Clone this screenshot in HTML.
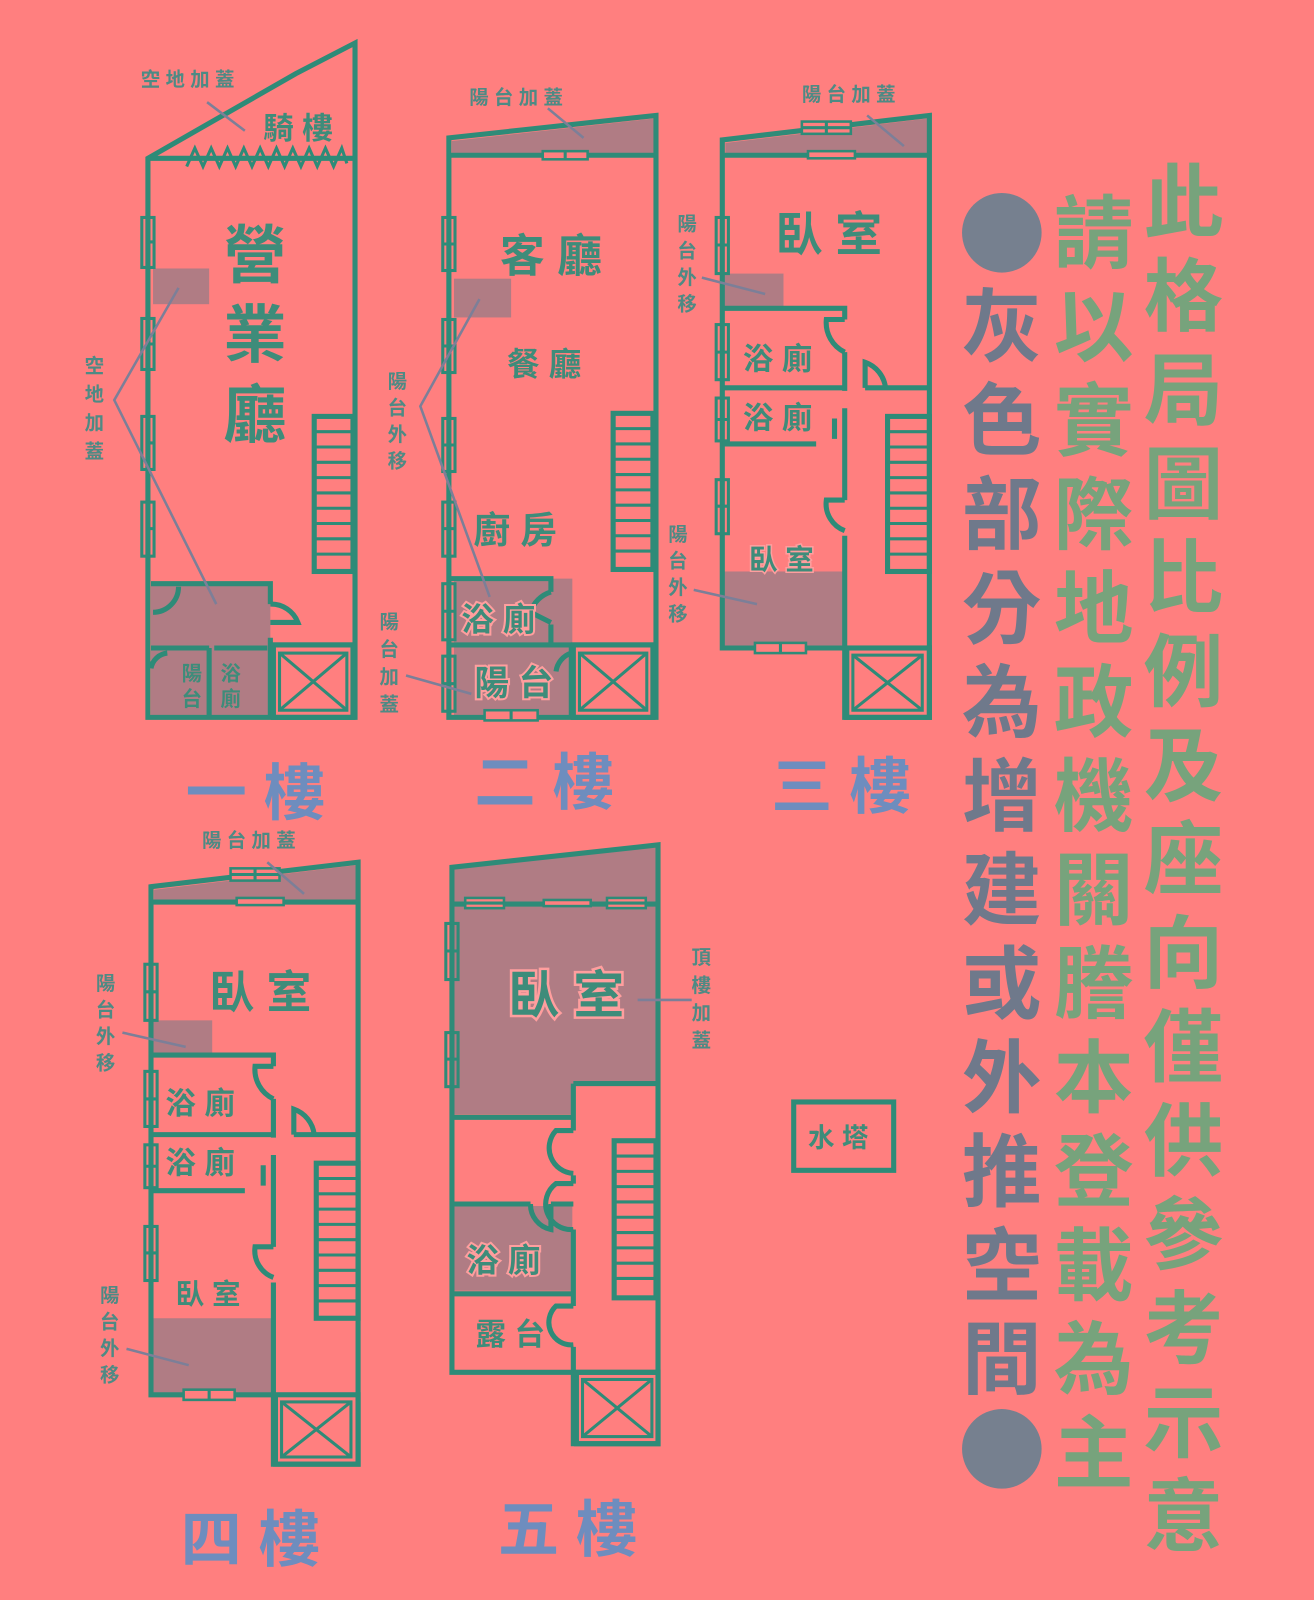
<!DOCTYPE html>
<html><head><meta charset="utf-8"><style>
html,body{margin:0;padding:0;background:#FF7F7F;}
svg{display:block}
.w{fill:none;stroke:#2E8B78;stroke-width:5}
.t{fill:none;stroke:#2E8B78;stroke-width:3}
.t2{fill:#FF7F7F;stroke:#2E8B78;stroke-width:2.5}
.g{fill:#B07C84}
.ld{stroke:#7C7F98;stroke-width:2.5}
text{font-family:"Liberation Sans","Noto Sans CJK TC",sans-serif;font-weight:bold}
.rm{fill:#3E8C7A}
.sm{fill:#4E8A84;font-size:19px}
.fl{fill:#6E8DBE;font-size:60px}
.gr{fill:#77A37C;font-size:78px}
.gy{fill:#6F798B;font-size:78px}
</style></head><body>
<svg width="1314" height="1600" viewBox="0 0 1288 1568" xmlns="http://www.w3.org/2000/svg">
<rect width="1288" height="1568" fill="#FF7F7F"/>

<!-- ===== FLOOR 1 ===== -->
<rect class="g" x="150" y="263" width="55" height="35"/>
<rect class="g" x="148" y="573" width="117" height="128"/>
<path class="w" d="M145,155 L290,72 L348,42 L348,703 L145,703 Z M145,155 L348,155"/>
<path class="t" d="M183,163 L191,145 L199,163 L207,145 L215,163 L223,145 L231,163 L239,145 L247,163 L255,145 L263,163 L271,145 L279,163 L287,145 L295,163 L303,145 L311,163 L319,145 L327,163 L335,145 L340,160"/>
<g class="t">
<rect x="139" y="213" width="12" height="49"/><rect x="139" y="312" width="12" height="50"/><rect x="139" y="408" width="12" height="52"/><rect x="139" y="492" width="12" height="53"/>
</g>
<path class="t" d="M145,237 h6 M145,337 h6 M145,434 h6 M145,518 h6"/>
<g class="w"><rect x="308" y="408" width="38" height="152"/></g>
<path class="t" d="M308,423h38M308,438h38M308,453h38M308,468h38M308,483h38M308,498h38M308,513h38M308,528h38M308,543h38"/>
<path class="w" d="M148,572 H265 V592 M265,625 V632 M265,632 H348 M148,635 H205 M205,635 V703 M265,632 V703 M210,635 H262"/>
<path class="w" d="M265,592 A28,28 0 0 1 292,610 L265,610 M150,600 A25,25 0 0 0 175,575 M148,655 A18,18 0 0 1 164,640"/>
<rect class="w" x="268" y="632" width="78" height="71"/>
<rect class="t" x="274" y="640" width="66" height="56"/>
<path class="t" d="M274,640 L340,696 M340,640 L274,696"/>
<text class="sm" x="138" y="84">空 地 加 蓋</text>
<line class="ld" x1="203" y1="100" x2="240" y2="128"/>
<text class="rm" x="258" y="136" font-size="30">騎 樓</text>
<text class="rm" x="219" y="272" font-size="62">營</text>
<text class="rm" x="219" y="350" font-size="62">業</text>
<text class="rm" x="219" y="428" font-size="62">廳</text>
<text class="sm" x="83" y="365">空</text><text class="sm" x="83" y="393">地</text><text class="sm" x="83" y="421">加</text><text class="sm" x="83" y="449">蓋</text>
<path class="ld" d="M175,282 L112,392 L212,592" fill="none"/>
<text class="rm" x="178" y="667" font-size="20">陽</text><text class="rm" x="178" y="692" font-size="20">台</text>
<text class="rm" x="216" y="667" font-size="20">浴</text><text class="rm" x="216" y="692" font-size="20">廁</text>

<!-- ===== FLOOR 2 ===== -->
<polygon class="g" points="443,138 641,116 641,150 443,150"/>
<rect class="g" x="445" y="273" width="56" height="38"/>
<rect class="g" x="445" y="567" width="116" height="134"/>
<path class="w" d="M440,135 L643,113 L643,703 L440,703 Z M440,152 H643"/>
<rect class="t2" x="532" y="148" width="44" height="8"/>
<path class="t" d="M554,148v8"/>
<g class="t">
<rect x="434" y="213" width="12" height="52"/><rect x="434" y="313" width="12" height="52"/><rect x="434" y="410" width="12" height="52"/><rect x="434" y="492" width="12" height="53"/><rect x="434" y="572" width="12" height="55"/><rect x="434" y="643" width="12" height="54"/>
</g>
<rect class="t2" x="475" y="696" width="52" height="10"/>
<path class="t" d="M434,239h12M434,339h12M434,436h12M434,518h12M434,599h12M434,670h12M501,696v10"/>
<rect class="w" x="601" y="405" width="39" height="153"/>
<path class="t" d="M601,420h39M601,435h39M601,450h39M601,465h39M601,480h39M601,495h39M601,510h39M601,525h39M601,540h39"/>
<path class="w" d="M440,567 H540 V580 M540,612 V632 M440,632 H643 M560,632 V703"/>
<path class="w" d="M540,580 A30,30 0 0 0 520,600 L540,610 M560,640 A22,22 0 0 0 545,658"/>
<rect class="w" x="562" y="632" width="78" height="71"/>
<rect class="t" x="568" y="640" width="66" height="56"/>
<path class="t" d="M568,640 L634,696 M634,640 L568,696"/>
<text class="sm" x="460" y="102">陽 台 加 蓋</text>
<line class="ld" x1="537" y1="106" x2="572" y2="135"/>
<text class="rm" x="490" y="266" font-size="44">客 廳</text>
<text class="rm" x="497" y="368" font-size="32">餐 廳</text>
<text class="rm" x="464" y="532" font-size="36">廚 房</text>
<text class="sm" x="380" y="380">陽</text><text class="sm" x="380" y="406">台</text><text class="sm" x="380" y="432">外</text><text class="sm" x="380" y="458">移</text>
<path class="ld" d="M470,293 L412,398 L480,585" fill="none"/>
<text class="sm" x="372" y="616">陽</text><text class="sm" x="372" y="643">台</text><text class="sm" x="372" y="670">加</text><text class="sm" x="372" y="697">蓋</text>
<line class="ld" x1="398" y1="662" x2="462" y2="680"/>
<text x="452" y="618" font-size="32" fill="#3E8C7A" stroke="#FF9E9E" stroke-width="4" paint-order="stroke">浴 廁</text>
<text x="465" y="681" font-size="34" fill="#3E8C7A" stroke="#FF9E9E" stroke-width="4" paint-order="stroke">陽 台</text>

<!-- ===== FLOOR 3 (reused for floor 4) ===== -->
<g id="f3">
<polygon class="g" points="711,140 909,116 909,150 711,150"/>
<rect class="g" x="710" y="268" width="58" height="34"/>
<rect class="g" x="710" y="560" width="118" height="74"/>
<path class="w" d="M708,137 L911,113 L911,703 L828,703 L828,635 L708,635 Z M708,152 H911"/>
<rect class="t2" x="786" y="119" width="48" height="12"/>
<rect class="t2" x="792" y="148" width="46" height="7"/>
<rect class="t2" x="740" y="630" width="50" height="10"/>
<g class="t">
<rect x="702" y="213" width="12" height="55"/><rect x="702" y="318" width="12" height="54"/><rect x="702" y="390" width="12" height="42"/><rect x="702" y="470" width="12" height="53"/>
</g>
<path class="t" d="M702,240h12M702,345h12M702,411h12M702,496h12M786,125h48M810,119v12M765,630v10"/>
<path class="w" d="M708,302 H828 V313 M828,345 V383 M708,380 H828 M848,380 H911 M708,435 H800 M828,400 V490 M828,525 V635"/>
<path class="w" d="M828,313 H810 A32,32 0 0 0 828,345 M848,380 V355 A30,30 0 0 1 868,380 M818,410 V430 M828,490 H810 A28,28 0 0 0 828,520"/>
<rect class="w" x="870" y="408" width="41" height="152"/>
<path class="t" d="M870,423h41M870,438h41M870,453h41M870,468h41M870,483h41M870,498h41M870,513h41M870,528h41M870,543h41"/>
<rect class="w" x="830" y="635" width="81" height="68"/>
<rect class="t" x="836" y="642" width="68" height="54"/>
<path class="t" d="M836,642 L904,696 M904,642 L836,696"/>
</g>
<text class="rm" x="760" y="246" font-size="46">臥 室</text>
<text class="rm" x="728" y="362" font-size="30">浴 廁</text>
<text class="rm" x="728" y="420" font-size="30">浴 廁</text>
<text class="rm" x="734" y="558" font-size="28" stroke="#FF9E9E" stroke-width="3" paint-order="stroke">臥 室</text>
<text class="sm" x="786" y="99">陽 台 加 蓋</text>
<line class="ld" x1="850" y1="113" x2="886" y2="143"/>
<text class="sm" x="664" y="226">陽</text><text class="sm" x="664" y="252">台</text><text class="sm" x="664" y="278">外</text><text class="sm" x="664" y="304">移</text>
<line class="ld" x1="688" y1="272" x2="750" y2="288"/>
<text class="sm" x="655" y="530">陽</text><text class="sm" x="655" y="556">台</text><text class="sm" x="655" y="582">外</text><text class="sm" x="655" y="608">移</text>
<line class="ld" x1="680" y1="578" x2="742" y2="592"/>

<!-- ===== FLOOR 4 ===== -->
<use href="#f3" transform="translate(-560,732)"/>
<text class="rm" x="205" y="988" font-size="44">臥 室</text>
<text class="rm" x="162" y="1092" font-size="30">浴 廁</text>
<text class="rm" x="162" y="1150" font-size="30">浴 廁</text>
<text class="rm" x="172" y="1278" font-size="28">臥 室</text>
<text class="sm" x="198" y="830">陽 台 加 蓋</text>
<line class="ld" x1="262" y1="845" x2="298" y2="876"/>
<text class="sm" x="94" y="970">陽</text><text class="sm" x="94" y="996">台</text><text class="sm" x="94" y="1022">外</text><text class="sm" x="94" y="1048">移</text>
<line class="ld" x1="120" y1="1012" x2="182" y2="1026"/>
<text class="sm" x="98" y="1276">陽</text><text class="sm" x="98" y="1302">台</text><text class="sm" x="98" y="1328">外</text><text class="sm" x="98" y="1354">移</text>
<line class="ld" x1="124" y1="1322" x2="185" y2="1338"/>

<!-- ===== FLOOR 5 ===== -->
<polygon class="g" points="445,852 643,830 643,1062 562,1062 562,1092 445,1092"/>
<rect class="g" x="445" y="1182" width="116" height="83"/>
<path class="w" d="M443,850 L645,828 L645,1415 L562,1415 L562,1345 L443,1345 Z M443,886 H645 M562,1062 H645 M562,1062 V1108 M562,1152 V1160 M562,1205 V1280 M562,1320 V1345 M443,1095 H562 M443,1180 H520 M540,1180 H562 M443,1268 H562 M443,1345 H645"/>
<path class="w" d="M562,1108 H545 A25,25 0 0 0 562,1150 M562,1160 H545 A25,25 0 0 0 562,1205 M562,1280 H545 A22,22 0 0 0 562,1318 M520,1180 A25,25 0 0 0 540,1205 V1180"/>
<rect class="t2" x="456" y="880" width="38" height="10"/><rect class="t2" x="533" y="882" width="46" height="6"/><rect class="t2" x="595" y="880" width="38" height="10"/>
<g class="t">
<rect x="437" y="905" width="12" height="55"/><rect x="437" y="1012" width="12" height="53"/>
</g>
<path class="t" d="M456,885h38M595,885h38M437,932h12M437,1038h12"/>
<rect class="w" x="602" y="1118" width="41" height="154"/>
<path class="t" d="M602,1133h41M602,1148h41M602,1163h41M602,1178h41M602,1193h41M602,1208h41M602,1223h41M602,1238h41M602,1253h41"/>
<rect class="w" x="565" y="1345" width="80" height="70"/>
<rect class="t" x="571" y="1352" width="68" height="56"/>
<path class="t" d="M571,1352 L639,1408 M639,1352 L571,1408"/>
<text x="498" y="993" font-size="50" fill="#3E8C7A" stroke="#FF9E9E" stroke-width="5" paint-order="stroke">臥 室</text>
<text x="457" y="1246" font-size="32" fill="#3E8C7A" stroke="#FF9E9E" stroke-width="4" paint-order="stroke">浴 廁</text>
<text class="rm" x="466" y="1318" font-size="30">露 台</text>
<text class="sm" x="678" y="945">頂</text><text class="sm" x="678" y="972">樓</text><text class="sm" x="678" y="999">加</text><text class="sm" x="678" y="1026">蓋</text>
<line class="ld" x1="625" y1="980" x2="678" y2="980"/>

<!-- water tower -->
<rect class="w" x="778" y="1080" width="98" height="67"/>
<text class="rm" x="792" y="1124" font-size="26">水 塔</text>

<!-- floor labels -->
<text class="fl" x="182" y="798">一 樓</text>
<text class="fl" x="465" y="788">二 樓</text>
<text class="fl" x="756" y="792">三 樓</text>
<text class="fl" x="177" y="1530">四 樓</text>
<text class="fl" x="488" y="1520">五 樓</text>

<!-- right text -->
<g class="gr" text-anchor="middle">
<text x="1160" y="226">此</text><text x="1160" y="318">格</text><text x="1160" y="410">局</text><text x="1160" y="502">圖</text><text x="1160" y="594">比</text><text x="1160" y="686">例</text><text x="1160" y="778">及</text><text x="1160" y="870">座</text><text x="1160" y="962">向</text><text x="1160" y="1054">僅</text><text x="1160" y="1146">供</text><text x="1160" y="1238">參</text><text x="1160" y="1330">考</text><text x="1160" y="1422">示</text><text x="1160" y="1514">意</text>
<text x="1072" y="256">請</text><text x="1072" y="348">以</text><text x="1072" y="440">實</text><text x="1072" y="532">際</text><text x="1072" y="624">地</text><text x="1072" y="716">政</text><text x="1072" y="808">機</text><text x="1072" y="900">關</text><text x="1072" y="992">謄</text><text x="1072" y="1084">本</text><text x="1072" y="1176">登</text><text x="1072" y="1268">載</text><text x="1072" y="1360">為</text><text x="1072" y="1452">主</text>
</g>
<circle cx="982" cy="228" r="39" fill="#76808F"/>
<circle cx="982" cy="1420" r="39" fill="#76808F"/>
<g class="gy" text-anchor="middle">
<text x="982" y="348">灰</text><text x="982" y="440">色</text><text x="982" y="532">部</text><text x="982" y="624">分</text><text x="982" y="716">為</text><text x="982" y="808">增</text><text x="982" y="900">建</text><text x="982" y="992">或</text><text x="982" y="1084">外</text><text x="982" y="1176">推</text><text x="982" y="1268">空</text><text x="982" y="1360">間</text>
</g>
</svg>
</body></html>
